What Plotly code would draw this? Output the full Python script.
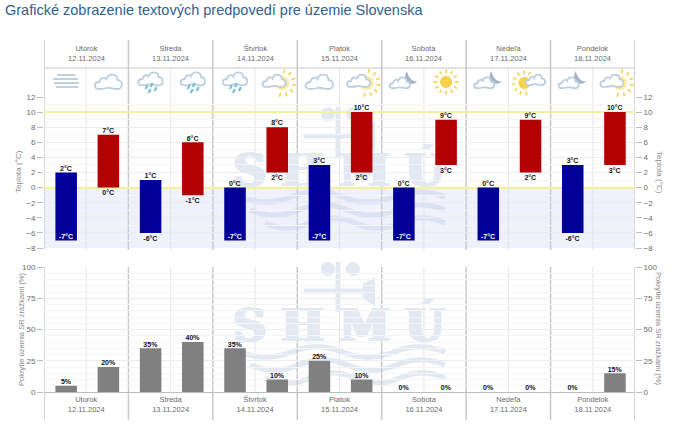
import math

import plotly.graph_objects as go

WIDTH = 676
HEIGHT = 427

days = ["Utorok", "Streda", "Štvrtok", "Piatok", "Sobota", "Nedeľa", "Pondelok"]
dates = ["12.11.2024", "13.11.2024", "14.11.2024", "15.11.2024", "16.11.2024", "17.11.2024", "18.11.2024"]

night_low = [-7, -6, -7, -7, -7, -7, -6]
night_high = [2, 1, 0, 3, 0, 0, 3]
day_low = [0, -1, 2, 2, 3, 2, 3]
day_high = [7, 6, 8, 10, 9, 9, 10]
coverage = [5, 20, 35, 40, 35, 10, 25, 10, 0, 0, 0, 0, 0, 15]

temp_ticks = [-8, -6, -4, -2, 0, 2, 4, 6, 8, 10, 12]
coverage_ticks = [0, 25, 50, 75, 100]
yellow_levels = [0, 10]

icons = ["fog", "cloud", "rain", "rain", "rain", "partly", "cloud", "partly",
         "moon", "sun", "moon", "sun_left", "moon", "partly"]

FONT = "Liberation Sans"
TICK_COLOR = "#6a6a6a"
TITLE_COLOR = "#8a8a8a"
SEP_COLOR = "#c9c9c9"
HALF_COLOR = "#e6e6e6"
WM_COLOR = "#e3e9f3"
CLOUD_COLOR = "#bccfe0"
SUN_COLOR = "#f2d65c"
MOON_COLOR = "#a4b2c8"
RAIN_COLOR = "#7fbdd0"

X0, X1 = 44, 635
TEMP_TOP, TEMP_BOTTOM = 97, 248
COV_TOP, COV_BOTTOM = 267, 392


def px(x, y):
    return f"{x / WIDTH:.5f},{1 - y / HEIGHT:.5f}"


def path_shape(d, line=None, fill=None, width=1.0):
    return dict(
        type="path", xref="paper", yref="paper", path=d, layer="below",
        line=dict(color=line or "rgba(0,0,0,0)", width=width if line else 0),
        fillcolor=fill or "rgba(0,0,0,0)",
    )


def curve(points, close=False):
    # points: start, then triples of cubic control points
    d = "M" + px(*points[0])
    for i in range(1, len(points), 3):
        d += " C" + " ".join(px(*p) for p in points[i:i + 3])
    return d + (" Z" if close else "")


def circle_path(cx, cy, r):
    k = 0.55 * r
    return curve([
        (cx - r, cy),
        (cx - r, cy - k), (cx - k, cy - r), (cx, cy - r),
        (cx + k, cy - r), (cx + r, cy - k), (cx + r, cy),
        (cx + r, cy + k), (cx + k, cy + r), (cx, cy + r),
        (cx - k, cy + r), (cx - r, cy + k), (cx - r, cy),
    ], close=True)


def cloud(cx, cy, s=1.0):
    raw = [(-9, 7), (-15, 7), (-15, 0), (-9, 0), (-8, -5), (-3, -5), (-2, -3),
           (0, -9), (9, -9), (9, -2), (15, -2), (15, 7), (9, 7),
           (4, 7), (2, 5), (-2, 6), (-5, 7), (-7, 7), (-9, 7)]
    pts = [(cx + x * s, cy + y * s) for x, y in raw]
    return path_shape(curve(pts, close=True), line=CLOUD_COLOR, fill="#ffffff", width=1.8)


def rays(cx, cy, r0, r1, start=0, stop=360, count=12):
    d = ""
    for i in range(count):
        a = math.radians(start + (stop - start) * i / count)
        d += f"M{px(cx + r0 * math.cos(a), cy + r0 * math.sin(a))} "
        d += f"L{px(cx + r1 * math.cos(a), cy + r1 * math.sin(a))} "
    return path_shape(d, line=SUN_COLOR, width=1.8)


def moon(cx, cy, r):
    d = curve([
        (cx, cy - r),
        (cx + r * 0.2, cy - r * 0.2), (cx + r * 0.6, cy + r * 0.5), (cx + r * 1.5, cy + r * 0.5),
        (cx + r * 0.8, cy + r * 1.2), (cx - r * 0.9, cy + r * 0.8), (cx, cy - r),
    ], close=True)
    return path_shape(d, fill=MOON_COLOR)


def icon_shapes(kind, cx, cy):
    out = []
    if kind == "fog":
        for dy, x0, x1 in [(-7, -9, 9), (-3, -13, 12), (1, -12, 13), (5, -10, 12)]:
            out.append(path_shape(f"M{px(cx + x0, cy + dy)} L{px(cx + x1, cy + dy)}",
                                  line="#b9cbd8", width=1.8))
    elif kind == "cloud":
        out.append(cloud(cx, cy, 1.0))
    elif kind == "rain":
        out.append(cloud(cx, cy - 3, 0.9))
        for dx, dy in [(-4, 5), (1, 3), (-1, 9), (5, 7)]:
            out.append(path_shape(f"M{px(cx + dx + 1, cy + dy - 2)} L{px(cx + dx - 1, cy + dy + 2)}",
                                  line=RAIN_COLOR, width=2.2))
    elif kind == "partly":
        out.append(rays(cx + 5, cy + 1, 10, 14, start=-80, stop=130, count=7))
        out.append(path_shape(circle_path(cx + 5, cy + 1, 7), fill="#fbeaa0"))
        out.append(cloud(cx - 3, cy - 1, 0.85))
    elif kind == "moon":
        out.append(moon(cx + 3, cy - 4, 7))
        out.append(cloud(cx - 4, cy + 1, 0.75))
    elif kind == "sun":
        out.append(rays(cx, cy, 9, 12.5))
        out.append(path_shape(circle_path(cx, cy, 6), fill="#f6d24a"))
    elif kind == "sun_left":
        out.append(rays(cx - 6, cy + 1, 9, 12.5, start=80, stop=330, count=8))
        out.append(path_shape(circle_path(cx - 6, cy + 1, 6), fill="#f6d24a"))
        out.append(cloud(cx + 5, cy - 2, 0.72))
    return out


def watermark_shapes(dy):
    out = []
    # mast with anemometer cups, arm and vane
    out.append(path_shape(f"M{px(338, 262 + dy)} L{px(338, 312 + dy)}", line=WM_COLOR, width=5))
    out.append(path_shape(circle_path(328, 269 + dy, 7), fill=WM_COLOR))
    out.append(path_shape(circle_path(353, 269 + dy, 7), fill=WM_COLOR))
    out.append(path_shape(f"M{px(304, 291 + dy)} L{px(366, 291 + dy)}", line=WM_COLOR, width=5))
    out.append(path_shape(
        f"M{px(363, 284 + dy)} L{px(375, 277 + dy)} L{px(375, 307 + dy)} L{px(363, 298 + dy)} Z",
        fill=WM_COLOR))
    # waves
    for y, x0, x1 in [(352, 240, 445), (365, 250, 445), (378, 265, 445)]:
        step = (x1 - x0) / 4
        pts = [(x0, y)]
        for i in range(4):
            sign = 1 if i % 2 == 0 else -1
            xa = x0 + i * step
            pts += [(xa + step * 0.35, y + sign * 7), (xa + step * 0.65, y + sign * 7), (xa + step, y)]
        pts = [(x, yy + dy) for x, yy in pts]
        out.append(path_shape(curve(pts), line=WM_COLOR, width=5.5))
    return out


slots = [i + 0.5 for i in range(14)]
night_x = slots[0::2]
day_x = slots[1::2]
centers = [i * 2 + 1 for i in range(7)]
day_labels = [f"{d}<br>{t}" for d, t in zip(days, dates)]

fig = go.Figure()

# watermark text lives in the first subplot so that the bars cover it
fig.add_trace(go.Scatter(
    x=[339, 339], y=[330, 175], mode="text", text=["S H M Ú", "S H M Ú"],
    textfont=dict(
        family="DejaVu Serif", size=45, color=WM_COLOR, weight="bold",
        shadow=f"1px 0 {WM_COLOR}, -1px 0 {WM_COLOR}, 2px 0 {WM_COLOR}, -2px 0 {WM_COLOR}",
    ),
    textposition="middle center", showlegend=False, hoverinfo="skip",
))

# yellow levels as thin bars: above the gridlines, behind the real bars
fig.add_trace(go.Bar(x=[7 for _ in yellow_levels], y=[0.2 for _ in yellow_levels],
                     base=[v - 0.1 for v in yellow_levels], width=14,
                     marker=dict(color="#f5f19a", line_width=0),
                     xaxis="x2", yaxis="y2", showlegend=False))
fig.add_trace(go.Bar(x=night_x, y=[h - l for h, l in zip(night_high, night_low)], base=night_low,
                     width=0.51, offset=-0.23, marker=dict(color="#000099", line_width=0),
                     xaxis="x2", yaxis="y2", showlegend=False))
fig.add_trace(go.Bar(x=day_x, y=[h - l for h, l in zip(day_high, day_low)], base=day_low,
                     width=0.51, offset=-0.23, marker=dict(color="#b30000", line_width=0),
                     xaxis="x2", yaxis="y2", showlegend=False))
fig.add_trace(go.Bar(x=slots, y=coverage, width=0.51, offset=-0.23,
                     marker=dict(color="#808080", line_width=0),
                     xaxis="x3", yaxis="y4", showlegend=False))


def label_trace(x, y, position, color, xaxis, yaxis, unit, gap=0.0):
    # gap nudges the label off the bar end, in axis units
    return go.Scatter(
        x=[v + 0.02 for v in x], y=[v + gap for v in y], mode="text", text=[f"{v}{unit}" for v in y],
        textposition=position,
        textfont=dict(family=FONT, size=7, color=color, weight="bold"),
        xaxis=xaxis, yaxis=yaxis, showlegend=False, hoverinfo="skip",
    )


fig.add_trace(label_trace(night_x, night_high, "top center", "#111111", "x2", "y2", "°C"))
fig.add_trace(label_trace(day_x, day_high, "top center", "#111111", "x2", "y2", "°C"))
fig.add_trace(label_trace(day_x, day_low, "bottom center", "#111111", "x2", "y2", "°C", gap=-0.35))
fig.add_trace(label_trace(
    [x for x, v in zip(night_x, night_low) if v <= -7],
    [v for v in night_low if v <= -7],
    "top center", "#ffffff", "x2", "y2", "°C",
))
fig.add_trace(label_trace(
    [x for x, v in zip(night_x, night_low) if v > -7],
    [v for v in night_low if v > -7],
    "bottom center", "#111111", "x2", "y2", "°C", gap=-0.35,
))
fig.add_trace(label_trace(slots, coverage, "top center", "#111111", "x3", "y4", "%"))

# carriers for the right-hand axes
fig.add_trace(go.Scatter(x=[0], y=[0], mode="markers", marker_opacity=0, xaxis="x2", yaxis="y3",
                         showlegend=False, hoverinfo="skip"))
fig.add_trace(go.Scatter(x=[0], y=[0], mode="markers", marker_opacity=0, xaxis="x3", yaxis="y5",
                         showlegend=False, hoverinfo="skip"))

shapes = watermark_shapes(0) + watermark_shapes(-155)

# cold band
shapes.append(dict(type="rect", xref="x2", yref="y2", x0=0, x1=14, y0=temp_ticks[0], y1=0,
                   fillcolor="rgba(205,210,250,0.32)", line_width=0, layer="below"))

# day and half-day separators
for i in range(15):
    if i % 2 == 0:
        color, width = SEP_COLOR, 1.5
        spans = [(40, 250), (267, 420)]
    else:
        color, width = HALF_COLOR, 1
        spans = [(68, 250), (267, 392)]
    for top, bottom in spans:
        shapes.append(dict(type="line", xref="x2", yref="paper", x0=i, x1=i,
                           y0=1 - top / HEIGHT, y1=1 - bottom / HEIGHT,
                           line=dict(color=color, width=width), layer="below"))
shapes.append(dict(type="line", xref="paper", yref="paper", x0=X0 / WIDTH, x1=X1 / WIDTH,
                   y0=1 - 68 / HEIGHT, y1=1 - 68 / HEIGHT,
                   line=dict(color=SEP_COLOR, width=1), layer="below"))

for kind, slot in zip(icons, slots):
    cx = X0 + (X1 - X0) * slot / 14 + 1
    shapes += icon_shapes(kind, cx, 82)

annotations = []
for c, label in zip(centers, day_labels):
    annotations.append(dict(xref="x2", yref="paper", x=c, y=1 - 53.5 / HEIGHT, text=label,
                            showarrow=False, font=dict(family=FONT, size=7.5, color=TICK_COLOR),
                            xanchor="center", yanchor="middle", align="center"))

for text, x, y, angle, size in [
    ("Teplota (°C)", 18, 172, -90, 8),
    ("Teplota (°C)", 660, 172, 90, 8),
    ("Pokrytie územia SR zrážkami (%)", 21, 329, -90, 7.6),
    ("Pokrytie územia SR zrážkami (%)", 659, 329, 90, 7.6),
]:
    annotations.append(dict(xref="paper", yref="paper", x=x / WIDTH, y=1 - y / HEIGHT, text=text,
                            textangle=angle, showarrow=False, xanchor="center", yanchor="middle",
                            font=dict(family=FONT, size=size, color=TITLE_COLOR)))

x_domain = [X0 / WIDTH, X1 / WIDTH]
temp_domain = [1 - TEMP_BOTTOM / HEIGHT, 1 - TEMP_TOP / HEIGHT]
cov_domain = [1 - COV_BOTTOM / HEIGHT, 1 - COV_TOP / HEIGHT]
tick_font = dict(family=FONT, size=8, color=TICK_COLOR)
y_style = dict(ticks="outside", ticklen=6, tickcolor="#bdbdbd", tickwidth=1, tickfont=tick_font,
               zeroline=False, showline=False, automargin=False)

fig.update_layout(
    width=WIDTH,
    height=HEIGHT,
    autosize=False,
    margin=dict(l=0, r=0, t=0, b=0),
    paper_bgcolor="#ffffff",
    plot_bgcolor="rgba(0,0,0,0)",
    barmode="overlay",
    showlegend=False,
    hovermode=False,
    title=dict(
        text="Grafické zobrazenie textových predpovedí pre územie Slovenska",
        x=5 / WIDTH, xanchor="left", xref="paper", y=1 - 10 / HEIGHT, yanchor="middle", yref="paper",
        font=dict(family=FONT, size=14.5, color="#2f6190"),
    ),
    xaxis=dict(domain=[0, 1], range=[0, WIDTH], visible=False, fixedrange=True, automargin=False),
    yaxis=dict(domain=[0, 1], range=[HEIGHT, 0], visible=False, fixedrange=True, automargin=False),
    xaxis2=dict(domain=x_domain, range=[0, 14], anchor="y2", showgrid=False, zeroline=False,
                showticklabels=False, ticks="", automargin=False),
    yaxis2=dict(domain=temp_domain, range=[-8, 12], anchor="x2", tickvals=temp_ticks, showgrid=True,
                gridcolor="#ececec", gridwidth=1,
                minor=dict(dtick=1, tick0=0, showgrid=True, gridcolor="#f5f5f5", ticks=""), **y_style),
    yaxis3=dict(domain=temp_domain, range=[-8, 12], anchor="x2", overlaying="y2", side="right",
                tickvals=temp_ticks, showgrid=False, **y_style),
    xaxis3=dict(domain=x_domain, range=[0, 14], anchor="y4", showgrid=False, zeroline=False,
                tickvals=centers, ticktext=day_labels, ticks="",
                tickfont=dict(family=FONT, size=7.5, color=TICK_COLOR),
                tickangle=0, showline=True, linecolor="#bdbdbd", linewidth=1, automargin=False),
    yaxis4=dict(domain=cov_domain, range=[0, 100], anchor="x3", tickvals=coverage_ticks, showgrid=True,
                gridcolor="#ececec", gridwidth=1,
                minor=dict(dtick=5, tick0=0, showgrid=True, gridcolor="#f5f5f5", ticks=""), **y_style),
    yaxis5=dict(domain=cov_domain, range=[0, 100], anchor="x3", overlaying="y4", side="right",
                tickvals=coverage_ticks, showgrid=False, **y_style),
    shapes=shapes,
    annotations=annotations,
)

fig.write_html(
    "out.html",
    config=dict(displayModeBar=False),
    post_script="document.body.style.margin='0';document.body.style.overflow='hidden';",
)
